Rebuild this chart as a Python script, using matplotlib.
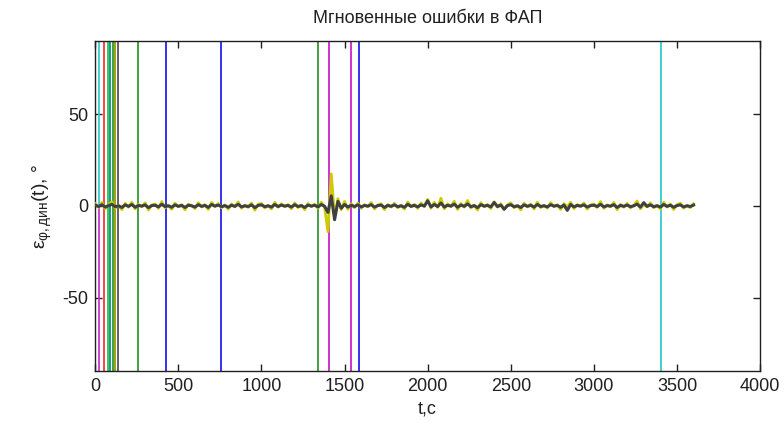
import numpy as np
import matplotlib
matplotlib.use("Agg")
import matplotlib.pyplot as plt

plt.rcParams['font.family'] = ['Liberation Sans', 'DejaVu Sans']
plt.rcParams['mathtext.fontset'] = 'custom'
plt.rcParams['mathtext.rm'] = 'Liberation Sans'
plt.rcParams['mathtext.it'] = 'Liberation Sans:italic'
plt.rcParams['axes.unicode_minus'] = False

# Sample times, s (every 20 s over one hour)
t = np.arange(0, 3601, 20)

# Phase error of the PLL, full (yellow) and dynamic (dark), degrees
err_full = [
    1.2, -0.8, 1.9, -1.5, 0.6, 2.3, -1.1, 0.4, -2.0, 1.4,
    -0.7, 2.1, -1.6, 0.9, -0.3, 1.7, -2.2, 0.5, 1.1, -1.3,
    2.4, -0.9, 0.3, -1.8, 1.5, -0.4, 0.8, -2.1, 1.0, 0.2,
    -1.4, 1.8, -0.6, 0.7, -1.9, 2.0, -0.2, 1.3, -1.0, 0.6,
    -1.7, 1.1, -0.5, 2.2, -1.2, 0.4, -0.8, 1.6, -2.3, 0.9,
    1.4, -1.1, 0.3, -1.6, 2.0, -0.7, 1.2, -0.4, 0.8, -1.5,
    1.7, -0.9, 0.5, -2.0, 1.3, -0.3, 0.9, -1.2, 2.1, -0.6,
    -14.0, 17.5, -6.0, 4.0, -2.0, 2.5, -1.8, 1.2, -0.9, 1.6,
    -1.3, 0.7, -0.4, 1.9, -1.6, 0.5, 1.2, -2.0, 0.8, -0.6,
    1.5, -1.0, 0.4, -1.7, 2.2, -0.5, 0.9, -1.3, 1.6, -0.2,
    3.6, -1.2, 2.0, -0.8, 4.2, -1.5, 1.1, -0.3, 2.6, -1.9,
    1.4, -0.6, 3.0, -1.1, 0.5, -2.2, 1.8, -0.4, 0.9, -1.4,
    2.3, -0.7, 1.2, -1.8, 0.6, 1.7, -1.0, 0.3, -2.1, 1.5,
    -0.5, 1.0, -1.6, 2.1, -0.9, 0.4, -1.2, 1.8, -0.3, 0.7,
    -1.9, 1.3, -0.6, 2.0, -1.4, 0.8, -0.2, 1.6, -1.7, 0.5,
    1.1, -0.8, 2.4, -1.3, 0.6, -0.4, 1.9, -2.0, 0.9, -0.7,
    1.4, -1.1, 0.3, 2.7, -1.5, 0.8, -0.5, 1.7, -1.0, 0.4,
    -1.6, 2.0, -0.6, 1.1, -1.9, 0.7, 1.5, -1.2, 0.2, -0.9,
    1.2,
]

err_dyn = [
    0.5, -0.3, 0.7, -0.6, 0.2, 0.9, -0.4, 0.1, -0.8, 0.6,
    -0.2, 0.8, -0.7, 0.3, -0.1, 0.6, -0.9, 0.2, 0.4, -0.5,
    0.9, -0.3, 0.1, -0.7, 0.6, -0.2, 0.3, -0.8, 0.4, 0.1,
    -0.6, 0.7, -0.2, 0.3, -0.8, 0.8, -0.1, 0.5, -0.4, 0.2,
    -0.7, 0.4, -0.2, 0.9, -0.5, 0.1, -0.3, 0.6, -0.9, 0.3,
    0.6, -0.4, 0.1, -0.6, 0.8, -0.3, 0.5, -0.1, 0.3, -0.6,
    0.7, -0.3, 0.2, -0.8, 0.5, -0.1, 0.4, -0.5, 0.8, -0.2,
    -3.5, 5.5, -7.5, 2.5, -1.2, 0.8, -0.6, 0.4, -0.3, 0.6,
    -0.5, 0.3, -0.1, 0.7, -0.6, 0.2, 0.5, -0.8, 0.3, -0.2,
    0.6, -0.4, 0.1, -0.7, 0.9, -0.2, 0.3, -0.5, 0.6, -0.1,
    2.8, -0.5, 0.8, -0.3, 1.6, -0.6, 0.4, -0.1, 1.0, -0.7,
    0.5, -0.2, 1.1, -0.4, 0.2, -0.9, 0.7, -0.1, 0.3, -0.5,
    1.9, -0.3, 0.5, -1.8, 0.2, 0.7, -0.4, 0.1, -0.8, 0.6,
    -0.2, 0.4, -0.6, 0.8, -0.3, 0.1, -0.5, 0.7, -0.1, 0.3,
    -0.7, 0.5, -2.4, 0.8, -0.5, 0.3, -0.1, 0.6, -0.6, 0.2,
    0.4, -0.3, 0.9, -0.5, 0.2, -0.1, 0.7, -0.8, 0.3, -0.2,
    0.5, -0.4, 0.1, 1.0, -0.6, 1.8, -0.2, 0.6, -0.4, 0.1,
    -0.6, 0.8, -0.2, 0.4, -0.7, 0.2, 0.6, -0.5, 0.1, -0.3,
    0.5,
]

# Event markers: time, s; lower and upper end, degrees; colour
event_t = [20, 20, 51, 75, 90, 107, 120, 135, 259, 424, 755,
           1340, 1408, 1537, 1585, 3404]
event_lo = [-90, 0, -90, -90, -90, -90, -90, -90, -90, -90, -90,
            -90, -90, -90, -90, -90]
event_hi = [0, 90, 90, 90, 90, 90, 90, 90, 90, 90, 90,
            90, 90, 90, 90, 90]
event_color = ['#cc33cc', '#33cccc', '#ff3333', '#33bb55', '#009977',
               '#339933', '#999900', '#555555', '#339933', '#2222ee',
               '#2222ee', '#339933', '#cc22cc', '#cc22cc', '#2222ee',
               '#33cccc']

fig = plt.figure(figsize=(7.84, 4.30), dpi=100)
ax = fig.add_axes([0.1215, 0.137, 0.848, 0.768])

for x, lo, hi, c in zip(event_t, event_lo, event_hi, event_color):
    ax.plot([x, x], [lo, hi], color=c, lw=1.3, zorder=2)

ax.plot(t, err_full, color='#cccc00', lw=2.0, zorder=3)
ax.plot(t, err_dyn, color='#404040', lw=2.2, zorder=4)

ax.set_xlim(0, 4000)
ax.set_ylim(-90, 90)
ax.set_xticks([0, 500, 1000, 1500, 2000, 2500, 3000, 3500, 4000])
ax.set_yticks([-50, 0, 50])
ax.tick_params(direction='in', top=True, right=True, length=5,
               width=1, labelsize=13, colors='#202020', pad=5)
for s in ax.spines.values():
    s.set_linewidth(1.0)
    s.set_color('#202020')

ax.set_title('Мгновенные ошибки в ФАП', fontsize=13, pad=13, color='#202020')
ax.set_xlabel('t,c', fontsize=13, labelpad=4, color='#202020')
ax.set_ylabel(r'$\mathrm{\varepsilon_{φ,дин}}$(t), °', fontsize=14,
              labelpad=6, color='#202020')

fig.savefig('out.png', dpi=100)
